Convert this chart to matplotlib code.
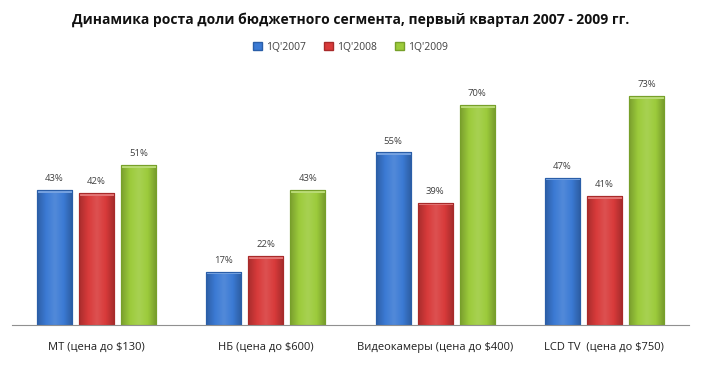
import matplotlib
matplotlib.use("Agg")
import matplotlib.pyplot as plt
import numpy as np
from matplotlib.patches import Patch
from matplotlib.colors import LinearSegmentedColormap, to_rgb

categories = ["МТ (цена до $130)", "НБ (цена до $600)", "Видеокамеры (цена до $400)", "LCD TV  (цена до $750)"]
series_names = ["1Q'2007", "1Q'2008", "1Q'2009"]
v2007 = [43, 17, 55, 47]
v2008 = [42, 22, 39, 41]
v2009 = [51, 43, 70, 73]
title = "Динамика роста доли бюджетного сегмента, первый квартал 2007 - 2009 гг."

colors = ["#3b7ad4", "#d83a3a", "#9ccb3b"]
edges = ["#2a5ea8", "#a82a2a", "#77a02a"]


def shade(c, f):
    r = np.array(to_rgb(c))
    if f < 0:
        return tuple(r * (1 + f))
    return tuple(r + (1 - r) * f)


plt.rcParams['font.family'] = ['Open Sans', 'DejaVu Sans']
fig = plt.figure(figsize=(7.01, 3.65), dpi=100)
ax = fig.add_axes([12/701, 40/365, 677/701, 251/365])

x = np.arange(len(categories))
step = 0.2485
width = 0.207
for i, (vals, c, e) in enumerate(zip([v2007, v2008, v2009], colors, edges)):
    pos = x + (i - 1) * step
    bars = ax.bar(pos, vals, width=width, color=c, edgecolor=e, linewidth=0.8,
                  label=series_names[i], zorder=2)
    cmap = LinearSegmentedColormap.from_list(
        "g%d" % i, [shade(c, -0.22), shade(c, 0.0), shade(c, 0.12), shade(c, 0.0), shade(c, -0.25)])
    grad = np.linspace(0, 1, 64).reshape(1, -1)
    for b, v in zip(bars, vals):
        x0 = b.get_x()
        im = ax.imshow(grad, cmap=cmap, aspect="auto", extent=(x0, x0 + b.get_width(), 0, v),
                       zorder=2.5, interpolation="bicubic")
        im.set_clip_path(b)
        ax.bar(b.get_x() + b.get_width()/2, 0.9, bottom=v - 0.9, width=b.get_width(),
               color=shade(c, 0.3), linewidth=0, zorder=2.6)
        ax.bar(b.get_x() + b.get_width()/2, v, width=b.get_width(), fill=False,
               edgecolor=e, linewidth=0.8, zorder=2.7)
        ax.text(b.get_x() + b.get_width()/2, v + 2.2, f"{v}%", ha="center", va="bottom",
                fontsize=6.8, color="#404040")

ax.set_xlim(-0.5, len(categories) - 0.5)
ax.set_ylim(0, 80)
ax.set_xticks(x)
ax.set_xticklabels(categories, fontsize=8, color="#202020")
ax.tick_params(axis='x', length=0, pad=12)
ax.set_yticks([])
for s in ["top", "right", "left"]:
    ax.spines[s].set_visible(False)
ax.spines["bottom"].set_color("#909090")
ax.spines["bottom"].set_zorder(3)

fig.text(0.5, 1 - 20/365, title, ha="center", va="center", fontsize=10, fontweight="bold", color="#111111")

handles = [Patch(facecolor=c, edgecolor=e) for c, e in zip(colors, edges)]
fig.legend(handles, series_names, loc="center", bbox_to_anchor=(0.5, 1 - 47/365), ncol=3,
           frameon=False, fontsize=7.5, handlelength=0.8, handleheight=0.8, handletextpad=0.4,
           columnspacing=1.8, labelcolor="#404040")

fig.savefig("out.png", dpi=100)
